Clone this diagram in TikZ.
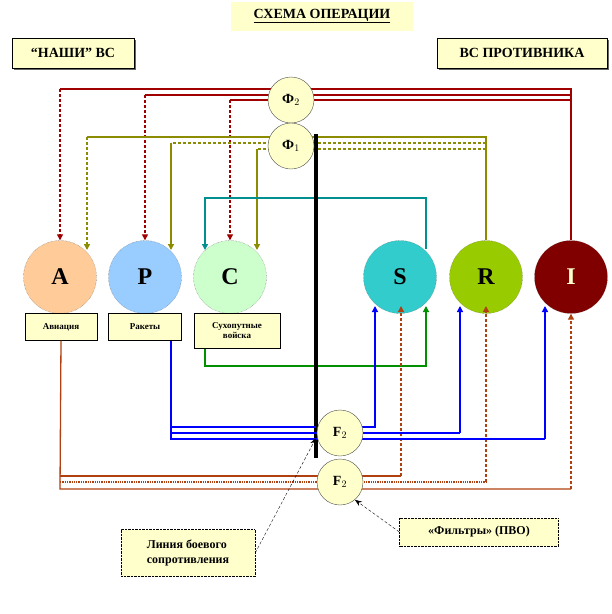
\documentclass[tikz,border=0pt]{standalone}
\usepackage{fontspec}
\setmainfont{Liberation Serif}
\usetikzlibrary{arrows.meta,shapes.geometric,calc}
\definecolor{pale}{HTML}{FFFFCC}
\definecolor{dred}{HTML}{A00000}
\definecolor{olv}{HTML}{8C8C00}
\definecolor{brn}{HTML}{B04010}
\definecolor{tl}{HTML}{009090}
\definecolor{gr}{HTML}{009000}
\definecolor{bl}{HTML}{0000FF}
\definecolor{cA}{HTML}{FFCC99}
\definecolor{cP}{HTML}{99CCFF}
\definecolor{cC}{HTML}{CCFFCC}
\definecolor{cS}{HTML}{33CCCC}
\definecolor{cR}{HTML}{99CC00}
\definecolor{cI}{HTML}{800000}
\begin{document}
\begin{tikzpicture}[x=1pt,y=-1pt,
  big/.style={circle,draw=black!60,densely dotted,minimum size=73pt,inner sep=0pt,font=\fontsize{24}{24}\selectfont\bfseries},
  phi/.style={ellipse,draw=black!70,fill=pale,minimum width=46pt,minimum height=46pt,inner sep=0pt,font=\fontsize{14}{14}\selectfont\bfseries},
  lbl/.style={draw,fill=pale,font=\fontsize{9}{10}\selectfont\bfseries,align=center,inner sep=2pt},
  arr/.style={-{Triangle[length=6pt,width=6pt]}},
  ln/.style={line width=1.3pt}]
\useasboundingbox (0,0) rectangle (612,614);
% header boxes
\fill[pale] (231,2) rectangle (413,31);
\node (title) at (322,16) {\fontsize{14}{14}\selectfont\bfseries\underline{СХЕМА ОПЕРАЦИИ}};
\fill[black!60] (14,40) rectangle (136,70);
\node[draw,fill=pale,minimum width=122pt,minimum height=30pt,inner sep=0pt,font=\fontsize{14}{14}\selectfont\bfseries] (ours) at (73,53) {“НАШИ” ВС};
\fill[black!60] (439,40) rectangle (609,70);
\node[draw,fill=pale,minimum width=170pt,minimum height=30pt,inner sep=0pt,font=\fontsize{14}{14}\selectfont\bfseries] (enemy) at (522,53) {ВС ПРОТИВНИКА};
% circles
\node[big,fill=cA] (A) at (60,277) {A};
\node[big,fill=cP] (P) at (145,277) {P};
\node[big,fill=cC] (C) at (230,277) {C};
\node[big,fill=cS] (S) at (400,277) {S};
\node[big,fill=cR] (R) at (486,277) {R};
\node[big,fill=cI,text=pale] (I) at (571,277) {I};
% labels
\node[lbl,minimum width=72pt,minimum height=27pt] (la) at (61,327) {Авиация};
\node[lbl,minimum width=73pt,minimum height=27pt] (lp) at (145,327) {Ракеты};
\node[lbl,minimum width=86pt,minimum height=35pt] (lc) at (237,331) {Сухопутные\\войска};
% red lines
\draw[dred,ln] (I.north) -- (571,89) -- (60,89);
\draw[dred,ln] (571,95) -- (145,95);
\draw[dred,ln] (571,100) -- (230,100);
\draw[dred,ln,densely dashed,arr] (60,89) -- (A.north);
\draw[dred,ln,densely dashed,arr] (145,95) -- (P.north);
\draw[dred,ln,densely dashed,arr] (230,100) -- (C.north);
% olive
\draw[olv,ln] (R.north) -- (486,137) -- (87,137);
\draw[olv,ln,densely dashed] (486,143) -- (171,143);
\draw[olv,ln,densely dashed] (486,149) -- (257,149);
\draw[olv,ln,densely dashed,arr] (87,137) -- (87,250);
\draw[olv,ln,arr] (171,143) -- (171,250);
\draw[olv,ln,arr] (257,149) -- (257,250);
% teal
\draw[tl,ln,arr] (426,249) -- (426,198) -- (205,198) -- (205,250);
% green
\draw[gr,ln,arr] (lc.south -| 205,0) -- (205,366) -- (426,366) -- (426,306);
% brown
\draw[brn,ln] (la.south) -- (60,489) -- (571,489);
\draw[brn,ln] (60,476) -- (401,476);
\draw[brn,ln,densely dotted] (60,482) -- (486,482);
\draw[brn,ln,densely dashed,arr] (401,476) -- (401,306);
\draw[brn,ln,densely dashed,arr] (486,482) -- (486,306);
\draw[brn,ln,densely dashed,arr] (571,489) -- (I.south);
% thick line
\draw[line width=3.5pt] (316,134) -- (316,458);
% blue
\draw[bl,ln] (lp.south -| 171,0) -- (171,439) -- (545,439);
\draw[bl,ln] (171,427) -- (316,427);
\draw[bl,ln] (171,433) -- (460,433);
\draw[bl,ln,arr] (362,427) -- (375,427) -- (375,306);
\draw[bl,ln,arr] (460,433) -- (460,306);
\draw[bl,ln,arr] (545,439) -- (545,306);
% phi ellipses
\node[phi] (f2) at (291,100) {Ф$_2$};
\node[phi] (f1) at (291,146) {Ф$_1$};
\node[phi] (F2a) at (340,433) {F$_2$};
\node[phi] (F2b) at (340,482) {F$_2$};
% callouts
\node[lbl,draw=black,densely dotted,minimum width=134pt,minimum height=47pt,align=left,font=\fontsize{12}{15}\selectfont\bfseries] (line) at (188,553) {Линия боевого\\сопротивления};
\node[lbl,draw=black,densely dotted,minimum width=159pt,minimum height=28pt,font=\fontsize{12}{12}\selectfont\bfseries] (filt) at (479,532) {«Фильтры» (ПВО)};
\draw[densely dashed,-{Stealth[length=7pt]}] (line.east) -- (316,438);
\draw[densely dashed,-{Stealth[length=7pt]}] (filt.west) -- (F2b.-50);
\end{tikzpicture}
\end{document}
